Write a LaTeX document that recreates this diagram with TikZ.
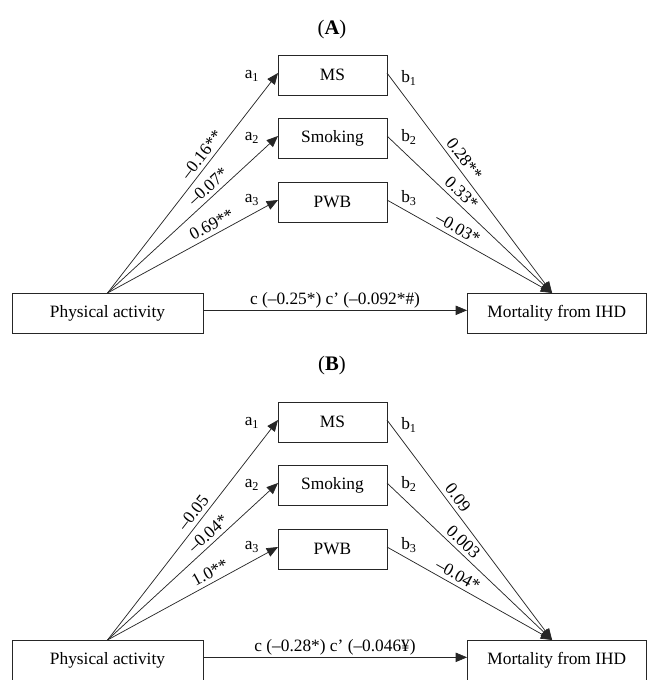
\documentclass[tikz,border=0pt]{standalone}
\usepackage{fontspec}
\setmainfont{Liberation Serif}
\usetikzlibrary{arrows.meta,calc}
\begin{document}
\begin{tikzpicture}[x=0.75pt,y=-0.75pt,
  box/.style={draw=black!85,line width=0.6pt,inner sep=0pt,outer sep=0pt,minimum height=30pt,font=\fontsize{13}{15}\selectfont},
  medbox/.style={box,minimum width=81.75pt},
  arr/.style={draw=black!85,line width=0.55pt,-{Triangle[length=8.5pt,width=7pt]}},
  lbl/.style={sloped,above=2pt,inner sep=1pt,font=\fontsize{13}{15}\selectfont},
  coef/.style={inner sep=0pt,font=\fontsize{13}{15}\selectfont},
  ttl/.style={font=\fontsize{15.5}{18}\selectfont}]
\useasboundingbox (0,0) rectangle (648,680);

% ---------- Panel A ----------
\node[ttl] (tA) at (332,30) {(\textbf{A})};
\node[medbox] (msA) at (332.5,75) {MS};
\node[medbox] (smA) at (332.5,138) {Smoking};
\node[medbox] (pwA) at (332.5,202) {PWB};
\node[box,minimum width=143.25pt] (paA) at (107.5,313) {Physical activity};
\node[box,minimum width=134.6pt] (moA) at (556.75,313) {Mortality from IHD};
\coordinate (mtA) at ([xshift=-3.5pt]moA.north);

\node[coef] (a1A) at (252,76) {a\textsubscript{1}};
\node[coef] (a2A) at (252,138) {a\textsubscript{2}};
\node[coef] (a3A) at (252,200) {a\textsubscript{3}};
\node[coef] (b1A) at (409,78) {b\textsubscript{1}};
\node[coef] (b2A) at (409,137) {b\textsubscript{2}};
\node[coef] (b3A) at (409,198) {b\textsubscript{3}};

\draw[arr] (paA.north) -- node[lbl,pos=0.6] {–0.16**} ([yshift=1.5pt]msA.west);
\draw[arr] (paA.north) -- node[lbl,pos=0.63] {–0.07*} ([yshift=1.5pt]smA.west);
\draw[arr] (paA.north) -- node[lbl,pos=0.64] {0.69**} ([yshift=1.5pt]pwA.west);
\draw[arr] ([yshift=1.5pt]msA.east) -- node[lbl,pos=0.42] {0.28**} (mtA);
\draw[arr] ([yshift=1.5pt]smA.east) -- node[lbl,pos=0.41] {0.33*} (mtA);
\draw[arr] ([yshift=1.5pt]pwA.east) -- node[lbl,pos=0.40] {–0.03*} (mtA);
\draw[arr] ([yshift=2pt]paA.east) -- node[coef,above=1.5pt] {c (–0.25*) c' (–0.092*\#)} ([yshift=2pt]moA.west);

% ---------- Panel B ----------
\node[ttl] (tB) at (332,366) {(\textbf{B})};
\node[medbox] (msB) at (332.5,422) {MS};
\node[medbox] (smB) at (332.5,485) {Smoking};
\node[medbox] (pwB) at (332.5,549) {PWB};
\node[box,minimum width=143.25pt] (paB) at (107.5,660) {Physical activity};
\node[box,minimum width=134.6pt] (moB) at (556.75,660) {Mortality from IHD};
\coordinate (mtB) at ([xshift=-3.5pt]moB.north);

\node[coef] (a1B) at (252,423) {a\textsubscript{1}};
\node[coef] (a2B) at (252,485) {a\textsubscript{2}};
\node[coef] (a3B) at (252,547) {a\textsubscript{3}};
\node[coef] (b1B) at (409,425) {b\textsubscript{1}};
\node[coef] (b2B) at (409,484) {b\textsubscript{2}};
\node[coef] (b3B) at (409,545) {b\textsubscript{3}};

\draw[arr] (paB.north) -- node[lbl,pos=0.55] {–0.05} ([yshift=1.5pt]msB.west);
\draw[arr] (paB.north) -- node[lbl,pos=0.63] {–0.04*} ([yshift=1.5pt]smB.west);
\draw[arr] (paB.north) -- node[lbl,pos=0.63] {1.0**} ([yshift=1.5pt]pwB.west);
\draw[arr] ([yshift=1.5pt]msB.east) -- node[lbl,pos=0.38] {0.09} (mtB);
\draw[arr] ([yshift=1.5pt]smB.east) -- node[lbl,pos=0.42] {0.003} (mtB);
\draw[arr] ([yshift=1.5pt]pwB.east) -- node[lbl,pos=0.40] {–0.04*} (mtB);
\draw[arr] ([yshift=2pt]paB.east) -- node[coef,above=1.5pt] {c (–0.28*) c' (–0.046¥)} ([yshift=2pt]moB.west);
\end{tikzpicture}
\end{document}
